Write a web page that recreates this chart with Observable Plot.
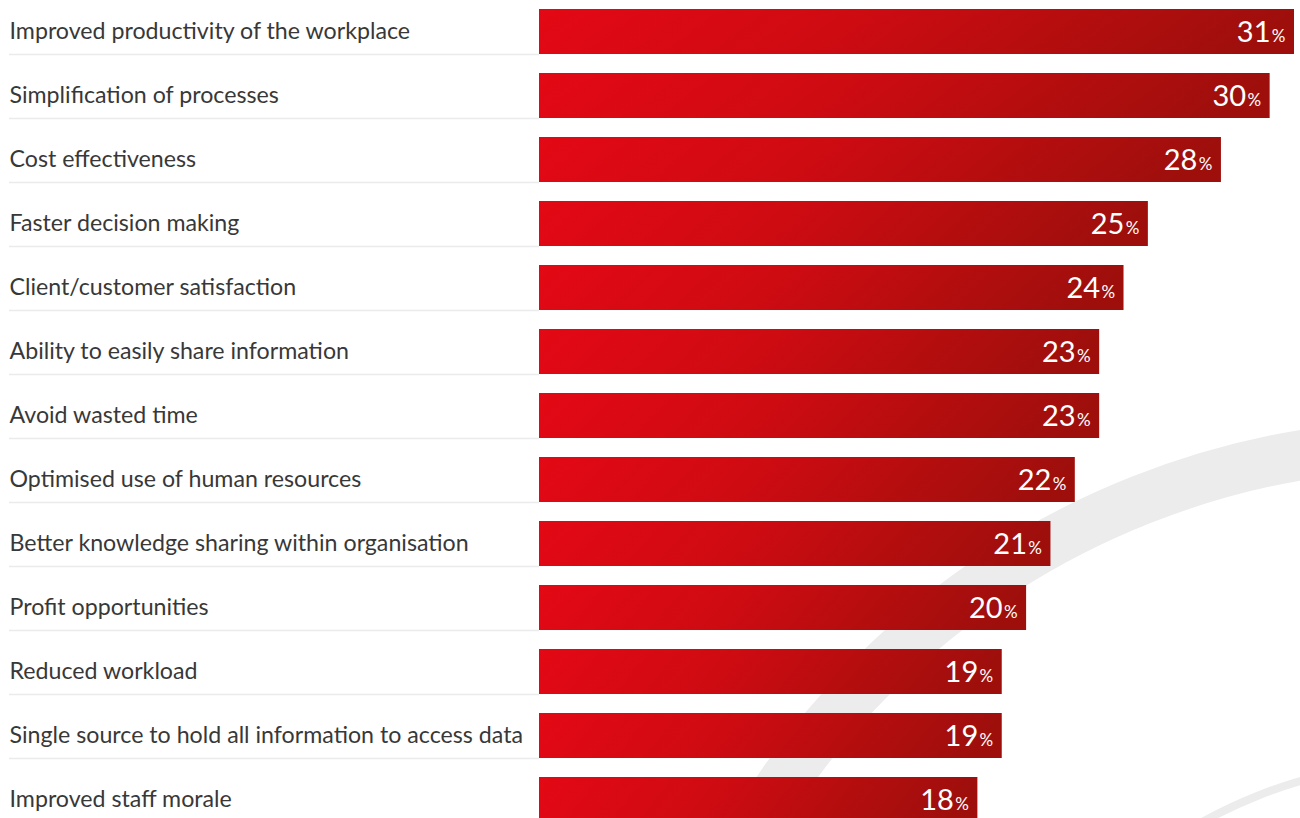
<!DOCTYPE html>
<html>
<head>
<meta charset="utf-8">
<script src="https://cdn.jsdelivr.net/npm/d3@7"></script>
<script src="https://cdn.jsdelivr.net/npm/@observablehq/plot@0.6"></script>
<style>
  html, body { margin: 0; padding: 0; background: #fff; }
  #chart svg { display: block; }
</style>
</head>
<body>
<div id="chart"></div>
<script>
const categories = [
  "Improved productivity of the workplace",
  "Simplification of processes",
  "Cost effectiveness",
  "Faster decision making",
  "Client/customer satisfaction",
  "Ability to easily share information",
  "Avoid wasted time",
  "Optimised use of human resources",
  "Better knowledge sharing within organisation",
  "Profit opportunities",
  "Reduced workload",
  "Single source to hold all information to access data",
  "Improved staff morale"
];
const values = [31, 30, 28, 25, 24, 23, 23, 22, 21, 20, 19, 19, 18];

const data = categories.map((c, i) => ({category: c, value: values[i]}));

const W = 1300, H = 818;
const FONT = "Lato, 'Open Sans', sans-serif";

const plot = Plot.plot({
  width: W,
  height: H,
  marginLeft: 539,
  marginRight: 6,
  marginTop: 9,
  marginBottom: 0,
  style: {background: "transparent", fontFamily: FONT},
  x: {domain: [0, 31], axis: null},
  y: {domain: categories, range: [9, 822], paddingInner: 19 / 64, paddingOuter: 0, axis: null},
  marks: [
    Plot.ruleY(data, {y: "category", dy: 22.5, insetLeft: -530, insetRight: 755, stroke: "#ebebeb", strokeWidth: 1.5}),
    Plot.barX(data, {y: "category", x: "value", fill: "url(#barGrad)"}),
    Plot.text(data, {y: "category", text: "category", frameAnchor: "left", dx: -530, textAnchor: "start", lineAnchor: "middle", fontSize: 23.2, fill: "#383838"}),
    Plot.text(data, {y: "category", x: "value", text: d => String(d.value), textAnchor: "end", lineAnchor: "middle", dx: -24, dy: 1.2, fontSize: 29, fill: "#fff"}),
    Plot.text(data, {y: "category", x: "value", text: () => "%", textAnchor: "end", lineAnchor: "middle", dx: -9, dy: 5, fontSize: 17, fill: "#fff"})
  ]
});

const svg = d3.select(plot);
const defs = svg.insert("defs", ":first-child");
const g = defs.append("linearGradient").attr("id", "barGrad")
  .attr("x1", 0).attr("y1", 0).attr("x2", 1).attr("y2", 0.08);
g.append("stop").attr("offset", "0%").attr("stop-color", "#e30815");
g.append("stop").attr("offset", "40%").attr("stop-color", "#d00b12");
g.append("stop").attr("offset", "100%").attr("stop-color", "#9e0f0c");

// decorative background arcs
const bg = svg.insert("g", "defs + *").attr("class", "bg-arcs");
bg.append("circle").attr("cx", 1434).attr("cy", 1239).attr("r", 795)
  .attr("fill", "none").attr("stroke", "#ececec").attr("stroke-width", 50);
bg.append("circle").attr("cx", 1434).attr("cy", 1239).attr("r", 477)
  .attr("fill", "none").attr("stroke", "#ececec").attr("stroke-width", 8);

document.getElementById("chart").appendChild(plot);
</script>
</body>
</html>
